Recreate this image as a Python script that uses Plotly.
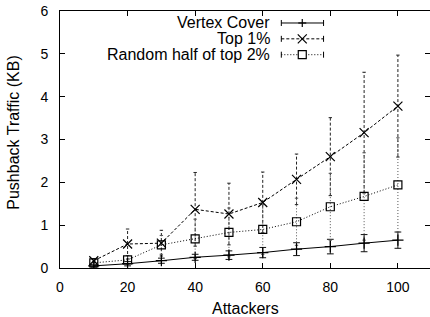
import plotly.graph_objects as go

# ---- data ----
attackers = [10, 20, 30, 40, 50, 60, 70, 80, 90, 100]
vc_mean = [0.05, 0.10, 0.17, 0.25, 0.30, 0.36, 0.44, 0.50, 0.58, 0.65]
vc_err = [0.03, 0.05, 0.06, 0.07, 0.10, 0.12, 0.15, 0.17, 0.20, 0.19]
top1_mean = [0.17, 0.56, 0.58, 1.37, 1.26, 1.53, 2.07, 2.60, 3.16, 3.78]
top1_err = [0.05, 0.35, 0.30, 0.86, 0.72, 0.71, 0.59, 0.91, 1.41, 1.19]
rand_mean = [0.12, 0.19, 0.54, 0.68, 0.83, 0.90, 1.08, 1.43, 1.67, 1.94]
rand_err = [0.04, 0.10, 0.22, 0.46, 0.57, 0.58, 0.55, 0.78, 1.02, 1.10]

series_names = ["Vertex Cover", "Top 1%", "Random half of top 2%"]
x_ticks = [0, 20, 40, 60, 80, 100]
y_ticks = [0, 1, 2, 3, 4, 5, 6]
x_title = "Attackers"
y_title = "Pushback Traffic (KB)"

FONT = "Liberation Sans, Arial, Helvetica, sans-serif"
BLACK = "#000000"

# name, mean, err, dash, symbol, marker size, error colour, cap half-width (x units)
series = [
    (series_names[0], vc_mean, vc_err, "solid", "cross-thin", 8, "#111111", 1.0),
    (series_names[1], top1_mean, top1_err, "3px,2px", "x-thin", 9, "#222222", 0.5),
    (series_names[2], rand_mean, rand_err, "1px,2px", "square-open", 8, "#555555", 0.5),
]

fig = go.Figure()

for name, mean, err, dash, sym, msize, ecol, cap in series:
    ex, ey, cx, cy = [], [], [], []
    for x, m, e in zip(attackers, mean, err):
        ex += [x, x, None]
        ey += [m - e, m + e, None]
        for v in (m - e, m + e):
            cx += [x - cap, x + cap, None]
            cy += [v, v, None]
    fig.add_trace(go.Scatter(x=ex, y=ey, mode="lines", showlegend=False,
                             line=dict(color=ecol, width=1, dash=dash), hoverinfo="skip"))
    fig.add_trace(go.Scatter(x=cx, y=cy, mode="lines", showlegend=False,
                             line=dict(color=ecol, width=1), hoverinfo="skip"))

for name, mean, err, dash, sym, msize, ecol, cap in series:
    fig.add_trace(go.Scatter(
        x=attackers, y=mean, mode="lines+markers", name=name, showlegend=False,
        line=dict(color=BLACK, width=1, dash=dash),
        marker=dict(symbol=sym, size=msize, color=BLACK,
                    line=dict(color=BLACK, width=1.2)),
    ))

# ---- gnuplot-style key (text left, sample right) ----
key_text_x = 62.6
key_x0, key_x1, key_xm = 65.5, 78.0, 71.7
key_rows = [5.72, 5.35, 4.98]
shapes = []
annotations = []
for (name, mean, err, dash, sym, msize, ecol, cap), yr in zip(series, key_rows):
    annotations.append(dict(x=key_text_x, y=yr, xref="x", yref="y", text=name,
                            showarrow=False, xanchor="right", yanchor="middle",
                            font=dict(family=FONT, size=16, color=BLACK)))
    shapes.append(dict(type="line", xref="x", yref="y", x0=key_x0, x1=key_x1, y0=yr, y1=yr,
                       line=dict(color=BLACK, width=1, dash=dash)))
    for xe in (key_x0, key_x1):
        shapes.append(dict(type="line", xref="x", yref="y", ysizemode="pixel", yanchor=yr,
                           x0=xe, x1=xe, y0=-3, y1=3, line=dict(color=BLACK, width=1)))
    common = dict(xref="x", yref="y", xsizemode="pixel", ysizemode="pixel",
                  xanchor=key_xm, yanchor=yr, line=dict(color=BLACK, width=1.2))
    if sym == "cross-thin":
        shapes.append(dict(type="line", x0=-4, x1=4, y0=0, y1=0, **common))
        shapes.append(dict(type="line", x0=0, x1=0, y0=-4, y1=4, **common))
    elif sym == "x-thin":
        shapes.append(dict(type="line", x0=-4.5, x1=4.5, y0=-4.5, y1=4.5, **common))
        shapes.append(dict(type="line", x0=-4.5, x1=4.5, y0=4.5, y1=-4.5, **common))
    else:
        shapes.append(dict(type="rect", x0=-4, x1=4, y0=-4, y1=4, fillcolor="white", **common))

# axis titles as annotations (precise placement)
annotations.append(dict(x=0.5, y=-0.156, xref="paper", yref="paper", text=x_title,
                        showarrow=False, xanchor="center", yanchor="middle",
                        font=dict(family=FONT, size=16, color=BLACK)))
annotations.append(dict(x=-0.128, y=0.525, xref="paper", yref="paper", text=y_title,
                        showarrow=False, xanchor="center", yanchor="middle", textangle=-90,
                        font=dict(family=FONT, size=16, color=BLACK)))

fig.update_layout(
    width=430, height=317,
    margin=dict(l=60, r=0, t=11, b=49),
    paper_bgcolor="white", plot_bgcolor="white",
    font=dict(family=FONT, size=14, color=BLACK),
    shapes=shapes, annotations=annotations,
    showlegend=False,
)
fig.update_xaxes(
    range=[0, 109.5], tickvals=x_ticks, ticks="inside", ticklen=5, tickcolor=BLACK,
    showline=True, linecolor=BLACK, linewidth=1, mirror="ticks", showgrid=False, zeroline=False,
    tickfont=dict(family=FONT, size=14), ticklabelstandoff=6, automargin=False,
)
fig.update_yaxes(
    range=[0, 6], tickvals=y_ticks, ticks="inside", ticklen=5, tickcolor=BLACK,
    showline=True, linecolor=BLACK, linewidth=1, mirror="ticks", showgrid=False, zeroline=False,
    tickfont=dict(family=FONT, size=14), ticklabelstandoff=8, automargin=False,
)

fig.write_html("out.html", config={"displayModeBar": False},
               post_script="document.body.style.margin='0';document.body.style.padding='0';")
